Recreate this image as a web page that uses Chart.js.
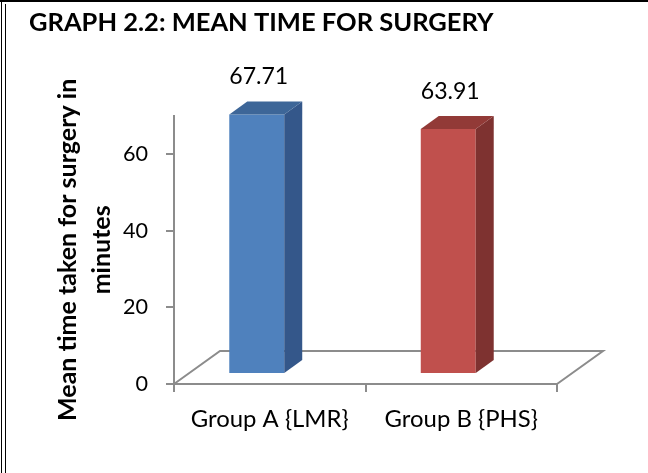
<!DOCTYPE html>
<html><head><meta charset="utf-8">
<script src="https://cdn.jsdelivr.net/npm/chart.js@4.4.1/dist/chart.umd.min.js"></script>
<style>html,body{margin:0;padding:0;background:#fff}canvas{display:block}</style>
</head><body>
<canvas id="c" width="648" height="473"></canvas>
<script>
// ---- data ----
const categories = ['Group A {LMR}', 'Group B {PHS}'];
const meanMinutes = [67.71, 63.91];
const yTicks = [0, 20, 40, 60];
const yMax = 70;
const chartTitle = 'GRAPH 2.2: MEAN TIME FOR SURGERY';
const yTitle = ['Mean time taken for surgery in', 'minutes'];

// ---- styles ----
const FRONT = ['#4F81BD', '#C0504D'];
const SIDE = ['#34578A', '#7E3230'];
const TOPC = ['#3D6698', '#923A37'];
const AXIS = '#8C8C8C';
const FAM = 'Lato, "Open Sans", sans-serif';

function fit(text, weight, target) {
  const c = document.createElement('canvas').getContext('2d');
  c.font = weight + ' 100px ' + FAM;
  return Math.round(1000 * target / c.measureText(text).width) / 10;
}
const titleSize = fit(chartTitle, 'bold', 465);
const yTitleSize = fit(yTitle[0], 'bold', 342);
const xTickSize = fit(categories[0], 'normal', 158);
const yTickSize = fit('60', 'normal', 25);
const valSize = fit('67.71', 'normal', 59);

const titlePadTop = 22.5 - 0.6 * titleSize;
const titlePadBottom = 115.7 - titlePadTop - 1.2 * titleSize;

const BAR_DX = -13, BAR_DY = -10;   // bar front plane offset
const DX = 18, DY = -13;            // bar depth
const FDX = 46, FDY = -33;          // floor depth

const threeD = {
  id: 'threeD',
  beforeDraw(chart) {
    const ctx = chart.ctx;
    ctx.save();
    ctx.fillStyle = '#fff';
    ctx.fillRect(0, 0, chart.width, chart.height);
    ctx.strokeStyle = '#000';
    ctx.lineWidth = 2;
    ctx.beginPath(); ctx.moveTo(0, 1); ctx.lineTo(chart.width, 1); ctx.stroke();
    ctx.lineWidth = 1;
    ctx.beginPath();
    ctx.moveTo(1.5, 0); ctx.lineTo(1.5, chart.height);
    ctx.moveTo(5.5, 4); ctx.lineTo(5.5, chart.height);
    ctx.stroke();
    ctx.restore();
  },
  beforeDatasetsDraw(chart) {
    const {ctx, scales: {x, y}} = chart;
    const y0 = y.getPixelForValue(0);
    ctx.save();
    ctx.strokeStyle = AXIS;
    ctx.lineWidth = 2;
    ctx.beginPath();
    ctx.moveTo(x.left, y0);
    ctx.lineTo(x.left + FDX, y0 + FDY);
    ctx.lineTo(x.right + FDX, y0 + FDY);
    ctx.lineTo(x.right, y0);
    ctx.stroke();
    ctx.restore();
    ctx.save();
    ctx.translate(BAR_DX, BAR_DY);
  },
  afterDatasetsDraw(chart) {
    const ctx = chart.ctx;
    const meta = chart.getDatasetMeta(0);
    meta.data.forEach((bar, i) => {
      const {x, y, base, width} = bar.getProps(['x', 'y', 'base', 'width'], true);
      const l = x - width / 2, r = x + width / 2;
      ctx.fillStyle = SIDE[i];
      ctx.beginPath();
      ctx.moveTo(r, y); ctx.lineTo(r + DX, y + DY); ctx.lineTo(r + DX, base + DY); ctx.lineTo(r, base);
      ctx.closePath(); ctx.fill();
      ctx.fillStyle = TOPC[i];
      ctx.beginPath();
      ctx.moveTo(l, y); ctx.lineTo(l + DX, y + DY); ctx.lineTo(r + DX, y + DY); ctx.lineTo(r, y);
      ctx.closePath(); ctx.fill();
      ctx.fillStyle = '#000';
      ctx.font = valSize + 'px ' + FAM;
      ctx.textAlign = 'center';
      ctx.textBaseline = 'middle';
      ctx.fillText(meanMinutes[i].toFixed(2), x + 2, y - 37.5);
    });
    ctx.restore();
  }
};

new Chart(document.getElementById('c'), {
  type: 'bar',
  data: {
    labels: categories,
    datasets: [{
      data: meanMinutes,
      backgroundColor: FRONT,
      borderWidth: 0,
      categoryPercentage: 1,
      barPercentage: 0.287,
      clip: false
    }]
  },
  options: {
    responsive: false,
    animation: false,
    layout: {padding: {left: 29, right: 91, top: 0, bottom: 0}},
    plugins: {
      legend: {display: false},
      tooltip: {enabled: false},
      title: {
        display: true, text: chartTitle, align: 'start', color: '#000',
        font: {family: FAM, weight: 'bold', size: titleSize},
        padding: {top: titlePadTop, bottom: titlePadBottom}
      }
    },
    scales: {
      x: {
        offset: true,
        grid: {display: true, drawOnChartArea: false, drawTicks: true, tickLength: 8, color: AXIS, lineWidth: 2, offset: true},
        border: {display: true, color: AXIS, width: 2},
        ticks: {color: '#000', font: {family: FAM, size: xTickSize}, padding: 13, maxRotation: 0, autoSkip: false},
        afterFit: s => { s.height = 89; }
      },
      y: {
        min: 0, max: yMax,
        afterBuildTicks: s => { s.ticks = yTicks.map(v => ({value: v})); },
        grid: {display: true, drawOnChartArea: false, drawTicks: true, tickLength: 8, color: AXIS, lineWidth: 2},
        border: {display: true, color: AXIS, width: 2},
        ticks: {color: '#000', font: {family: FAM, size: yTickSize}, padding: 18},
        title: {
          display: true, text: yTitle, color: '#000',
          font: {family: FAM, weight: 'bold', size: yTitleSize, lineHeight: '34px'},
          padding: {top: 22, bottom: 0}
        },
        afterFit: s => { s.width = 145; }
      }
    }
  },
  plugins: [threeD]
});
</script>
</body></html>
